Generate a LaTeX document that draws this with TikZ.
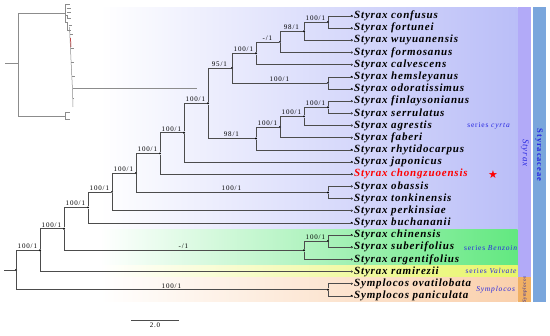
\documentclass[tikz,border=0pt]{standalone}
\usepackage{fontspec}
\setmainfont{Liberation Serif}
\newfontfamily\leaffont[LetterSpace=7.5]{Liberation Serif}
\newfontfamily\suppfont[LetterSpace=12]{Liberation Serif}
\newfontfamily\serfont[LetterSpace=11]{Liberation Serif}
\newfontfamily\starfont{DejaVu Sans}
\definecolor{cyrtacol}{RGB}{186,190,248}
\definecolor{benzcol}{RGB}{98,232,128}
\definecolor{valvcol}{RGB}{232,246,104}
\definecolor{sympcol}{RGB}{250,208,172}
\definecolor{styrband}{RGB}{178,170,248}
\definecolor{sympband}{RGB}{240,176,100}
\definecolor{famband}{RGB}{122,166,220}
\definecolor{serblue}{RGB}{40,40,225}
\tikzset{
  br/.style={draw=black!70, line width=0.6pt},
  dot/.style={circle, fill=black, inner sep=0pt, minimum size=2.2pt},
  leaf/.style={anchor=west, inner sep=1pt, font=\leaffont\fontsize{11}{11}\selectfont\bfseries\itshape,
    label={[dot]west:}},
  supp/.style={above, pos=0.75, inner sep=1.2pt, font=\suppfont\fontsize{7}{7}\selectfont},
  ser/.style={text=serblue, inner sep=0pt, font=\serfont\fontsize{7.5}{7.5}\selectfont},
  inset/.style={draw=black!45, line width=0.5pt},
}
\begin{document}
\begin{tikzpicture}[x=1pt,y=-1pt]
\useasboundingbox[fill=white] (0,0) rectangle (550,336);

% clade backgrounds
\shade[left color=white, right color=cyrtacol] (100,7.3) rectangle (517.7,229.3);
\shade[left color=white, right color=benzcol] (100,229.3) rectangle (517.7,265.7);
\shade[left color=white, right color=valvcol] (100,265.7) rectangle (517.7,277.3);
\shade[left color=white, right color=sympcol] (100,277.3) rectangle (517.7,301.7);
\fill[styrband] (518.2,7.3) rectangle (531,277.3);
\fill[sympband] (518.2,277.3) rectangle (531,301.7);
\fill[famband] (532.6,7.3) rectangle (545.7,301.7);

\node[ser] at (489,125.7) (scyr) {series \textit{cyrta}};
\node[ser] at (491,248) (sben) {series \textit{Benzoin}};
\node[ser] at (491.5,271) (sval) {series \textit{Valvate}};
\node[ser] at (496,290) (ssym) {\textit{Symplocos}};
\node[ser, rotate=-90, font=\serfont\fontsize{9}{9}\selectfont\itshape] at (525,153) (gsty) {Styrax};
\node[ser, rotate=90, font=\serfont\fontsize{5}{5}\selectfont\itshape, text=serblue!70!black] at (524.6,289.5) (gsym) {Symplocos};
\node[ser, rotate=-90, font=\serfont\fontsize{8.5}{8.5}\selectfont\bfseries] at (539,155) (fam) {Styracaceae};
\node[text=red, inner sep=0pt, font=\starfont\fontsize{11}{11}\selectfont] at (493,174.3) (star) {★};

% thumbnail of the whole tree
\draw[inset] (5,63.3) -- (18,63.3);
\draw[inset] (18,13.3) -- (18,116.7);
\draw[inset] (18,13.3) -- (65,13.3);
\draw[inset] (65,4.5) -- (65,22.5) -- (67,22.5);
\draw[inset] (65,4.5) -- (70,4.5) (66.5,8) -- (70.5,8) (65,15) -- (67,15) -- (67,18) -- (71,18) (67,12) -- (71,12);
\draw[inset] (67,22.5) -- (67,30.5) -- (71,30.5) (68.5,25) -- (71.5,25);
\draw[inset] (69.5,27) -- (71,60) -- (72.5,90) -- (73,107);
\draw[inset] (70.2,34) -- (73,34) (70.8,48) -- (73.5,48) (71.3,62) -- (74,62) (72,76) -- (74.5,76) (72.6,98) -- (74,98);
\draw[draw=red!70!black, line width=0.5pt] (70.6,38) -- (71,47);
\draw[inset] (72.5,88.3) -- (197,88.3);
\draw[inset] (18,116.7) -- (65,116.7);
\draw[inset] (65,112.5) -- (65,119.5);
\draw[inset] (65,112.5) -- (70,112.5) (65,119.5) -- (70,119.5);

% leaves
\node[leaf] at (353,16) (l1) {Styrax confusus};
\node[leaf] at (353,28.2) (l2) {Styrax fortunei};
\node[leaf] at (353,40.3) (l3) {Styrax wuyuanensis};
\node[leaf] at (353,52.5) (l4) {Styrax formosanus};
\node[leaf] at (353,64.7) (l5) {Styrax calvescens};
\node[leaf] at (353,76.9) (l6) {Styrax hemsleyanus};
\node[leaf] at (353,89.0) (l7) {Styrax odoratissimus};
\node[leaf] at (353,101.2) (l8) {Styrax finlaysonianus};
\node[leaf] at (353,113.4) (l9) {Styrax serrulatus};
\node[leaf] at (353,125.5) (l10) {Styrax agrestis};
\node[leaf] at (353,137.7) (l11) {Styrax faberi};
\node[leaf] at (353,149.9) (l12) {Styrax rhytidocarpus};
\node[leaf] at (353,162.0) (l13) {Styrax japonicus};
\node[leaf, text=red] at (353,174.2) (l14) {Styrax chongzuoensis};
\node[leaf] at (353,186.4) (l15) {Styrax obassis};
\node[leaf] at (353,198.6) (l16) {Styrax tonkinensis};
\node[leaf] at (353,210.7) (l17) {Styrax perkinsiae};
\node[leaf] at (353,222.9) (l18) {Styrax buchananii};
\node[leaf] at (353,235.1) (l19) {Styrax chinensis};
\node[leaf] at (353,247.2) (l20) {Styrax suberifolius};
\node[leaf] at (353,259.4) (l21) {Styrax argentifolius};
\node[leaf] at (353,271.6) (l22) {Styrax ramirezii};
\node[leaf] at (353,283.7) (l23) {Symplocos ovatilobata};
\node[leaf] at (353,295.9) (l24) {Symplocos paniculata};

% internal nodes
\node[dot] at (328,22.1) (n1) {};
\node[dot] at (304,31.2) (n2) {};
\node[dot] at (280,41.9) (n3) {};
\node[dot] at (256,53.3) (n4) {};
\node[dot] at (328,82.9) (n5) {};
\node[dot] at (232,68.1) (n6) {};
\node[dot] at (328,107.3) (n7) {};
\node[dot] at (304,116.4) (n8) {};
\node[dot] at (280,127.0) (n9) {};
\node[dot] at (256,138.5) (n10) {};
\node[dot] at (208,103.3) (n11) {};
\node[dot] at (184,132.7) (n12) {};
\node[dot] at (160,153.4) (n13) {};
\node[dot] at (328,192.5) (n14) {};
\node[dot] at (136,173.0) (n15) {};
\node[dot] at (112,191.9) (n16) {};
\node[dot] at (88,207.4) (n17) {};
\node[dot] at (328,241.1) (n18) {};
\node[dot] at (304,250.3) (n19) {};
\node[dot] at (64,228.8) (n20) {};
\node[dot] at (40,250.2) (n21) {};
\node[dot] at (328,289.8) (n22) {};
\node[dot] at (16,270.0) (root) {};
\coordinate (r0) at (4,270);

% branches
\draw[br] (r0) -- (root);
\draw[br] (n1) |- (l1.west);
\draw[br] (n1) |- (l2.west);
\draw[br] (n2) |- node[supp]{100/1} (n1);
\draw[br] (n2) |- (l3.west);
\draw[br] (n3) |- node[supp]{98/1} (n2);
\draw[br] (n3) |- (l4.west);
\draw[br] (n4) |- node[supp]{-/1} (n3);
\draw[br] (n4) |- (l5.west);
\draw[br] (n5) |- (l6.west);
\draw[br] (n5) |- (l7.west);
\draw[br] (n6) |- node[supp]{100/1} (n4);
\draw[br] (n6) |- node[supp]{100/1} (n5);
\draw[br] (n7) |- (l8.west);
\draw[br] (n7) |- (l9.west);
\draw[br] (n8) |- node[supp]{100/1} (n7);
\draw[br] (n8) |- (l10.west);
\draw[br] (n9) |- node[supp]{100/1} (n8);
\draw[br] (n9) |- (l11.west);
\draw[br] (n10) |- node[supp]{100/1} (n9);
\draw[br] (n10) |- (l12.west);
\draw[br] (n11) |- node[supp]{95/1} (n6);
\draw[br] (n11) |- node[supp]{98/1} (n10);
\draw[br] (n12) |- node[supp]{100/1} (n11);
\draw[br] (n12) |- (l13.west);
\draw[br] (n13) |- node[supp]{100/1} (n12);
\draw[br] (n13) |- (l14.west);
\draw[br] (n14) |- (l15.west);
\draw[br] (n14) |- (l16.west);
\draw[br] (n15) |- node[supp]{100/1} (n13);
\draw[br] (n15) |- node[supp]{100/1} (n14);
\draw[br] (n16) |- node[supp]{100/1} (n15);
\draw[br] (n16) |- (l17.west);
\draw[br] (n17) |- node[supp]{100/1} (n16);
\draw[br] (n17) |- (l18.west);
\draw[br] (n18) |- (l19.west);
\draw[br] (n18) |- (l20.west);
\draw[br] (n19) |- node[supp]{100/1} (n18);
\draw[br] (n19) |- (l21.west);
\draw[br] (n20) |- node[supp]{100/1} (n17);
\draw[br] (n20) |- node[supp]{-/1} (n19);
\draw[br] (n21) |- node[supp]{100/1} (n20);
\draw[br] (n21) |- (l22.west);
\draw[br] (n22) |- (l23.west);
\draw[br] (n22) |- (l24.west);
\draw[br] (root) |- node[supp]{100/1} (n21);
\draw[br] (root) |- node[supp]{100/1} (n22);

% scale bar
\coordinate (sb1) at (131,320.7);
\coordinate (sb2) at (179,320.7);
\draw[br] (sb1) -- node[below, inner sep=2pt, font=\suppfont\fontsize{7}{7}\selectfont] (sbl) {2.0} (sb2);
\end{tikzpicture}
\end{document}
